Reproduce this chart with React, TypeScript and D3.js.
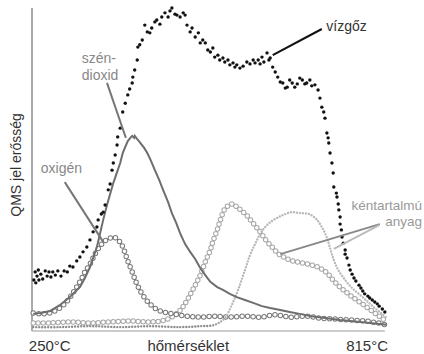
import React, { useEffect, useRef } from "react";
import * as d3 from "d3";

const W = 424;
const H = 354;

// vízgőz (black scatter)
const steamT = [253,255,256,258,260,261,264,267,271,274,277,280,283,287,291,296,301,306,310,315,321,326,331,337,342,347,353,355,360,363,366,371,374,377,379,382,385,386,390,394,398,402,405,409,410,413,417,418,421,425,429,433,437,440,445,448,453,456,461,466,469,472,477,480,485,490,493,496,501,504,509,514,517,521,525,529,533,537,540,545,548,553,556,561,564,569,572,575,580,585,591,596,601,604,609,612,615,618,623,626,628,632,636,640,644,648,652,655,659,663,667,671,675,679,683,686,691,694,699,704,707,710,713,715,718,720,721,723,726,728,729,733,734,736,737,739,739,741,742,744,747,747,750,753,755,758,761,764,769,772,775,778,783,786,790,794,798,801,806,810];
const steamV = [15.8,18.3,14.9,17.0,18.9,15.8,17.6,16.1,18.6,17.0,18.3,16.7,18.3,17.3,18.6,17.0,18.6,18.3,20.1,19.8,21.7,22.9,24.5,26.0,28.2,30.7,32.2,34.4,36.2,36.8,39.0,43.7,45.5,49.8,52.0,54.5,57.6,60.1,62.8,67.8,70.5,73.1,74.9,76.8,78.6,80.8,83.9,87.9,88.6,90.1,94.7,92.6,92.3,93.8,95.7,96.3,95.0,97.2,98.5,97.2,99.1,100,98.1,97.8,97.2,98.5,97.8,94.7,92.6,93.8,91.0,92.3,89.2,90.1,89.2,87.0,86.4,87.6,84.8,85.4,83.9,84.5,83.3,83.9,82.4,83.0,81.7,82.4,81.4,82.0,83.3,82.7,83.9,83.0,83.9,82.7,84.8,83.3,86.1,83.9,84.5,81.7,80.2,78.6,77.1,76.8,75.2,75.5,77.7,76.8,75.5,76.5,78.3,77.7,76.5,76.8,77.7,75.9,76.2,74.6,72.1,69.3,67.8,65.9,61.3,59.8,58.2,55.1,52.0,48.9,44.6,42.7,41.5,39.3,37.5,35.3,33.1,31.3,29.1,27.2,25.1,23.8,22.6,20.4,18.9,17.6,16.4,15.5,14.2,13.3,12.4,11.5,10.8,10.2,9.6,9.0,8.4,7.7,6.8,5.9];

// szén-dioxid (gray line)
const co2T = [252,263,279,294,310,326,334,342,353,363,369,374,379,385,390,394,398,402,406,409,412,413,417,421,428,433,439,445,452,458,466,472,479,485,493,501,509,517,525,533,544,553,564,575,588,601,615,628,644,659,675,694,715,739,755,771,786,802,813];
const co2V = [5.3,5.6,6.2,8.0,10.5,13.6,16.4,19.8,26.0,34.4,39.0,42.4,45.8,49.2,52.0,55.1,57.0,58.8,59.8,60.4,59.8,60.4,59.4,58.5,56.7,55.1,52.6,49.8,46.7,43.7,39.9,36.5,33.4,30.3,26.9,24.5,22.3,19.5,17.3,15.2,13.6,12.7,11.5,10.5,9.6,8.7,7.7,7.1,6.5,5.9,5.3,4.6,4.0,3.4,3.1,2.8,2.5,2.2,1.9];

// oxigén (dark open circles)
const oxT = [252,263,279,294,306,315,326,334,342,350,358,366,374,380,386,391,396,402,409,415,421,429,437,445,458,474,496,517,540,564,588,612,636,659,683,707,731,755,778,799,812];
const oxV = [5.6,5.3,5.6,7.1,9.3,11.8,15.2,18.3,20.7,23.8,26.3,27.9,28.8,29.1,28.2,27.2,25.1,21.7,18.3,15.2,12.7,10.2,8.4,7.1,5.9,5.3,4.6,4.3,4.6,4.3,4.6,4.3,5.0,4.3,4.6,4.0,3.7,3.4,3.1,2.5,1.9];

// kéntartalmú anyag (light open circles)
const sulfT = [252,279,310,342,374,406,437,461,477,488,498,509,517,525,533,537,544,550,556,563,569,575,583,593,602,612,621,631,640,652,664,679,694,707,718,729,739,750,763,774,785,796,805,813];
const sulfV = [2.5,2.5,2.8,2.5,2.8,3.1,2.8,3.4,5.0,7.1,10.2,14.2,17.3,21.4,25.1,27.6,31.3,35.0,37.8,39.0,39.3,38.4,37.2,35.3,33.1,30.7,28.2,26.0,24.1,22.6,21.7,21.1,20.4,19.5,18.0,15.5,13.6,11.8,9.9,8.4,6.8,5.3,4.0,2.8];

// kéntartalmú anyag (light dotted)
const sulf2T = [252,294,342,390,437,485,517,540,556,567,577,588,596,604,612,620,631,642,652,663,675,690,701,709,717,723,729,736,747,758,771,783,794,804,813];
const sulf2V = [1.2,1.2,1.5,1.2,1.5,1.2,1.5,1.9,4.0,8.0,12.7,18.9,23.5,26.9,30.0,32.2,34.1,35.3,36.2,36.8,36.5,36.2,34.7,32.5,29.4,25.7,22.0,18.9,15.8,13.3,11.1,9.0,7.1,5.6,4.0];

const axisLabels = ["250°C", "hőmérséklet", "815°C"];
const yLabel = "QMS jel erősség";

const zip = (a: number[], b: number[]) => a.map((t, i) => [t, b[i]] as [number, number]);

const App = () => {
  const svgRef = useRef<SVGSVGElement>(null);

  useEffect(() => {
    const svg = d3.select(svgRef.current);
    svg.selectAll("*").remove();

    const x = d3.scaleLinear().domain([250, 815]).range([32, 388]);
    const y = d3.scaleLinear().domain([0, 100]).range([331, 8]);
    const font = "'Liberation Sans', Arial, sans-serif";

    // flat part of the dotted series reads darker where the marks pile up
    const grad = svg.append("defs").append("linearGradient")
      .attr("id", "sulf2")
      .attr("gradientUnits", "userSpaceOnUse")
      .attr("x1", x(250)).attr("x2", x(815)).attr("y1", 0).attr("y2", 0);
    grad.append("stop").attr("offset", 0).attr("stop-color", "#8c8c8c");
    grad.append("stop").attr("offset", (x(530) - x(250)) / (x(815) - x(250))).attr("stop-color", "#8c8c8c");
    grad.append("stop").attr("offset", (x(560) - x(250)) / (x(815) - x(250))).attr("stop-color", "#b8b8b8");
    grad.append("stop").attr("offset", 1).attr("stop-color", "#b8b8b8");

    // axes
    svg.append("line")
      .attr("x1", x(250)).attr("x2", x(250))
      .attr("y1", y(0)).attr("y2", y(100))
      .attr("stroke", "#aaa").attr("stroke-width", 2);
    svg.append("line")
      .attr("x1", x(250)).attr("x2", x(810))
      .attr("y1", y(0)).attr("y2", y(0))
      .attr("stroke", "#bbb").attr("stroke-width", 1.5);

    const line = d3.line<[number, number]>()
      .x((d) => x(d[0]))
      .y((d) => y(d[1]))
      .curve(d3.curveCatmullRom.alpha(0.5));

    const rings = (data: [number, number][], color: string, gap: number) => {
      svg.append("path")
        .attr("d", line(data))
        .attr("fill", "none")
        .attr("stroke", color)
        .attr("stroke-width", 5.5)
        .attr("stroke-linecap", "round")
        .attr("stroke-dasharray", `0 ${gap}`);
      svg.append("path")
        .attr("d", line(data))
        .attr("fill", "none")
        .attr("stroke", "#fff")
        .attr("stroke-width", 3.5)
        .attr("stroke-linecap", "round")
        .attr("stroke-dasharray", `0 ${gap}`);
    };

    rings(zip(sulfT, sulfV), "#a8a8a8", 5);
    rings(zip(oxT, oxV), "#7a7a7a", 5.5);

    svg.append("path")
      .attr("d", line(zip(sulf2T, sulf2V)))
      .attr("fill", "none")
      .attr("stroke", "url(#sulf2)")
      .attr("stroke-width", 2.4)
      .attr("stroke-linecap", "round")
      .attr("stroke-dasharray", "0 3");

    svg.append("path")
      .attr("d", d3.line<[number, number]>().x((d) => x(d[0])).y((d) => y(d[1]))(zip(co2T, co2V)))
      .attr("fill", "none")
      .attr("stroke", "#6e6e6e")
      .attr("stroke-width", 2);

    svg.selectAll("circle.steam")
      .data(zip(steamT, steamV))
      .enter()
      .append("circle")
      .attr("class", "steam")
      .attr("cx", (d) => x(d[0]))
      .attr("cy", (d) => y(d[1]))
      .attr("r", 1.7)
      .attr("fill", "#111");

    // leader lines
    const leaders: [number, number, number, number, string, number][] = [
      [369, 76.8, 399, 59.8, "#777", 2],
      [302, 46.1, 363, 27.6, "#777", 2],
      [710, 93.5, 632, 85.4, "#111", 2],
      [802, 33.1, 644, 23.8, "#888", 2],
      [801, 32.8, 729, 25.4, "#bbb", 2],
    ];
    leaders.forEach(([t1, v1, t2, v2, c, w]) => {
      svg.append("line")
        .attr("x1", x(t1)).attr("y1", y(v1))
        .attr("x2", x(t2)).attr("y2", y(v2))
        .attr("stroke", c).attr("stroke-width", w);
    });

    const label = (txt: string, t: number, v: number, color: string, anchor = "start", size = 14) =>
      svg.append("text")
        .attr("x", x(t)).attr("y", y(v))
        .attr("fill", color)
        .attr("text-anchor", anchor)
        .style("font-family", font)
        .style("font-size", `${size}px`)
        .text(txt);

    label("vízgőz", 717, 92.9, "#333");
    label("szén-", 329, 83.0, "#888");
    label("dioxid", 329, 77.7, "#888");
    label("oxigén", 264, 48.9, "#888");
    label("kéntartalmú", 869, 37.5, "#999", "end", 13.5);
    label("anyag", 869, 32.5, "#999", "end", 13.5);

    label(axisLabels[0], 245, -6.2, "#333", "start", 15);
    label(axisLabels[1], 498, -6.2, "#333", "middle", 15);
    label(axisLabels[2], 815, -6.2, "#333", "end", 15);

    svg.append("text")
      .attr("transform", `translate(${x(224) + 5},${y(51.4)}) rotate(-90)`)
      .attr("fill", "#333")
      .attr("text-anchor", "middle")
      .style("font-family", font)
      .style("font-size", "14px")
      .text(yLabel);
  }, []);

  return (
    <svg
      ref={svgRef}
      width={W}
      height={H}
      style={{ position: "absolute", left: 0, top: 0, background: "#fff" }}
    />
  );
};

export default App;
